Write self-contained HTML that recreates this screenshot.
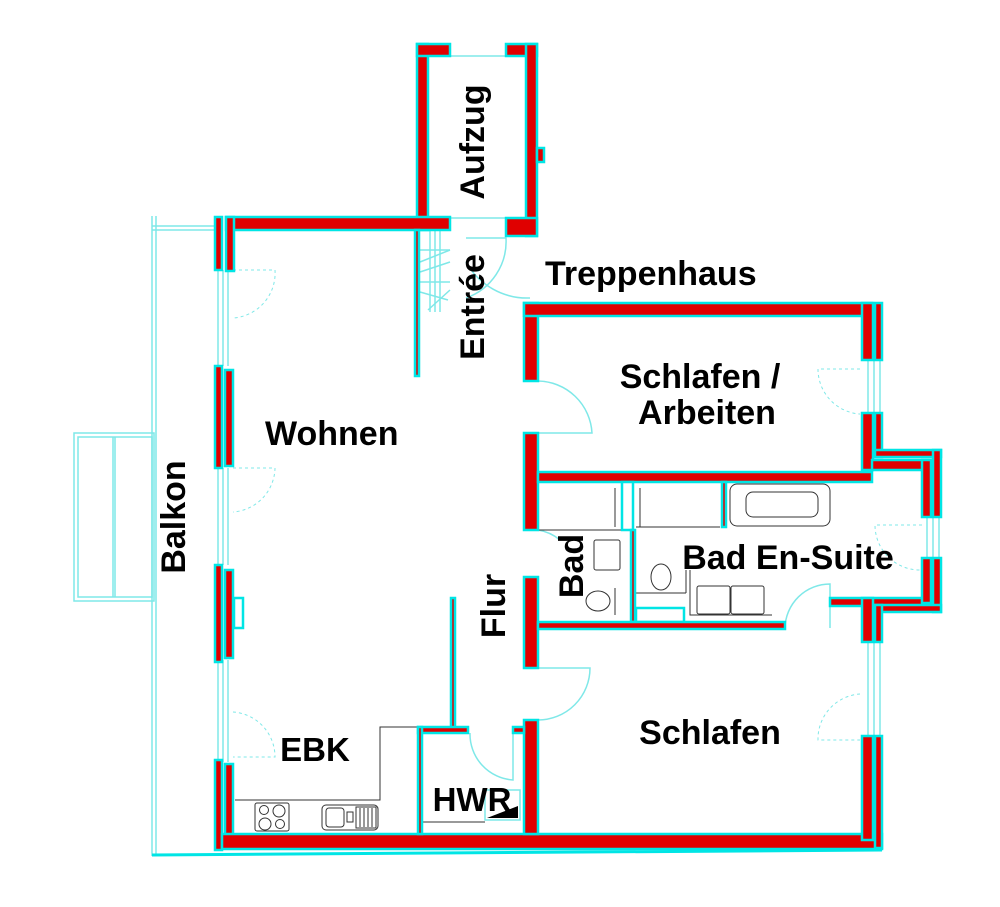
<!DOCTYPE html>
<html><head><meta charset="utf-8"><style>
html,body{margin:0;padding:0;background:#fff;}
svg{display:block}
text{font-family:"Liberation Sans",Arial,sans-serif;font-weight:bold;fill:#000;}
</style></head><body>
<svg width="1000" height="907" viewBox="0 0 1000 907" xmlns="http://www.w3.org/2000/svg">
<g fill="none" stroke="#7fe8e8" stroke-width="1.5">
  <line x1="152" y1="216" x2="152" y2="856"/>
  <line x1="156" y1="216" x2="156" y2="856"/>
  <line x1="152" y1="226" x2="215" y2="226"/>
  <line x1="152" y1="230" x2="215" y2="230"/>
  <rect x="74" y="433" width="80" height="168"/>
  <rect x="78" y="437" width="74" height="160"/>
  <line x1="113" y1="437" x2="113" y2="597"/>
  <line x1="115" y1="437" x2="115" y2="597"/>
  <line x1="218" y1="270" x2="218" y2="366"/><line x1="223" y1="270" x2="223" y2="366"/><line x1="228" y1="270" x2="228" y2="366"/>
  <line x1="218" y1="468" x2="218" y2="565"/><line x1="223" y1="468" x2="223" y2="565"/><line x1="228" y1="468" x2="228" y2="565"/>
  <line x1="218" y1="660" x2="218" y2="762"/><line x1="223" y1="660" x2="223" y2="762"/><line x1="228" y1="660" x2="228" y2="762"/>
  <line x1="868" y1="360" x2="868" y2="413"/><line x1="874" y1="360" x2="874" y2="413"/><line x1="880" y1="360" x2="880" y2="413"/>
  <line x1="927" y1="517" x2="927" y2="558"/><line x1="933" y1="517" x2="933" y2="558"/><line x1="939" y1="517" x2="939" y2="558"/>
  <line x1="868" y1="642" x2="868" y2="736"/><line x1="874" y1="642" x2="874" y2="736"/><line x1="880" y1="642" x2="880" y2="736"/>
  <line x1="450" y1="56" x2="506" y2="56"/>
  <line x1="450" y1="218" x2="506" y2="218"/>
  <line x1="430" y1="230" x2="430" y2="312"/><line x1="435" y1="230" x2="435" y2="312"/><line x1="440" y1="230" x2="440" y2="312"/>
  <line x1="420" y1="250" x2="450" y2="250"/><line x1="420" y1="262" x2="450" y2="250"/><line x1="420" y1="272" x2="450" y2="262"/>
  <line x1="420" y1="282" x2="450" y2="282"/><line x1="420" y1="292" x2="448" y2="300"/><line x1="428" y1="310" x2="450" y2="290"/>
  <path d="M466 238 L506 238 A60 60 0 0 1 466 298"/>
  <path d="M466 262 A70 70 0 0 0 530 298"/>
  <path d="M538 381 A55 55 0 0 1 592 433 L538 433"/>
  <path d="M538 530 A45 45 0 0 1 560 540"/>
  <path d="M785 628 A45 45 0 0 1 830 584 L830 628"/>
  <path d="M538 720 A52 52 0 0 0 590 668 L538 668"/>
  <path d="M470 733 A46 46 0 0 0 513 780 L513 733"/>
  <rect x="485" y="790" width="35" height="30"/>
</g>
<g fill="none" stroke="#7fe8e8" stroke-width="1" stroke-dasharray="3,3">
  <path d="M233 270 L275 270 A45 45 0 0 1 233 318"/>
  <path d="M233 468 L275 468 A45 45 0 0 1 233 512"/>
  <path d="M233 712 A45 45 0 0 1 275 757 L233 757"/>
  <path d="M860 369 L818 369 A45 45 0 0 0 860 414"/>
  <path d="M922 525 L875 525 A45 45 0 0 0 922 570"/>
  <path d="M860 694 A45 45 0 0 0 818 740 L860 740"/>
</g>
<g fill="none" stroke="#333" stroke-width="1">
  <polyline points="235,800 380,800 380,727 417,727"/>
  <rect x="255" y="803" width="34" height="28" rx="2"/>
  <circle cx="264" cy="810" r="4.5"/><circle cx="279" cy="811" r="6"/><circle cx="265" cy="824" r="6"/><circle cx="280" cy="824" r="4.5"/>
  <rect x="322" y="805" width="56" height="25" rx="4"/>
  <rect x="326" y="808" width="18" height="19" rx="3"/>
  <rect x="347" y="812" width="6" height="10"/>
  <rect x="356" y="807" width="20" height="21"/>
  <line x1="360" y1="808" x2="360" y2="827"/><line x1="364" y1="808" x2="364" y2="827"/><line x1="368" y1="808" x2="368" y2="827"/><line x1="372" y1="808" x2="372" y2="827"/>
  <line x1="423" y1="822" x2="485" y2="822"/>
  <rect x="730" y="484" width="100" height="42" rx="7"/>
  <rect x="746" y="492" width="72" height="25" rx="7"/>
  <line x1="538" y1="530" x2="633" y2="530"/>
  <line x1="636" y1="527" x2="720" y2="527"/>
  <line x1="615" y1="488" x2="615" y2="527"/><line x1="640" y1="488" x2="640" y2="527"/>
  <rect x="594" y="540" width="26" height="30" rx="2"/>
  <ellipse cx="598" cy="601" rx="12" ry="10"/>
  <line x1="615" y1="588" x2="615" y2="615"/>
  <ellipse cx="661" cy="577" rx="10" ry="13"/>
  <line x1="636" y1="593" x2="686" y2="593"/>
  <line x1="686" y1="570" x2="686" y2="593"/>
  <polyline points="690,570 690,615 772,615"/>
  <rect x="697" y="586" width="33" height="28" rx="2"/>
  <rect x="731" y="586" width="33" height="28" rx="2"/>
</g>
<g fill="#000">
  <polygon points="623,484 630,484 626,525"/>
  <polygon points="638,610 680,620 638,620"/>
  <polygon points="487,818 518,806 518,818"/>
  <polygon points="234,600 240,600 234,620"/>
</g>
<g fill="#e00000" stroke="#00e5e5" stroke-width="2.5">
  <rect x="417" y="44" width="11" height="186"/>
  <rect x="417" y="44" width="33" height="12"/>
  <rect x="506" y="44" width="31" height="12"/>
  <rect x="526" y="44" width="11" height="192"/>
  <rect x="537" y="148" width="7" height="14"/>
  <rect x="506" y="218" width="31" height="18"/>
  <rect x="226" y="217" width="224" height="13"/>
  <rect x="226" y="217" width="8" height="54"/>
  <rect x="415" y="230" width="4" height="146"/>
  <rect x="215" y="217" width="7" height="53"/>
  <rect x="215" y="366" width="7" height="102"/>
  <rect x="225" y="370" width="8" height="96"/>
  <rect x="215" y="565" width="7" height="97"/>
  <rect x="225" y="570" width="8" height="88"/>
  <rect x="234" y="598" width="9" height="30" fill="#fff"/>
  <rect x="215" y="760" width="7" height="90"/>
  <rect x="225" y="764" width="8" height="84"/>
  <rect x="222" y="834" width="660" height="15"/>
  <rect x="524" y="303" width="14" height="78"/>
  <rect x="524" y="303" width="348" height="13"/>
  <rect x="862" y="303" width="11" height="57"/>
  <rect x="875" y="303" width="7" height="57"/>
  <rect x="524" y="433" width="14" height="97"/>
  <rect x="538" y="472" width="334" height="10"/>
  <rect x="862" y="413" width="11" height="57"/>
  <rect x="875" y="413" width="7" height="44"/>
  <rect x="875" y="450" width="66" height="7"/>
  <rect x="872" y="460" width="59" height="10"/>
  <rect x="922" y="460" width="9" height="57"/>
  <rect x="933" y="450" width="8" height="67"/>
  <rect x="622" y="482" width="11" height="48" fill="#fff"/>
  <rect x="631" y="530" width="4" height="92"/>
  <rect x="722" y="482" width="4" height="45"/>
  <rect x="636" y="608" width="48" height="14" fill="#fff"/>
  <rect x="524" y="577" width="14" height="91"/>
  <rect x="538" y="622" width="247" height="7"/>
  <rect x="830" y="598" width="101" height="8"/>
  <rect x="922" y="558" width="9" height="45"/>
  <rect x="933" y="558" width="8" height="54"/>
  <rect x="875" y="605" width="66" height="7"/>
  <rect x="862" y="598" width="11" height="44"/>
  <rect x="875" y="605" width="7" height="37"/>
  <rect x="862" y="736" width="11" height="104"/>
  <rect x="875" y="736" width="7" height="112"/>
  <rect x="524" y="720" width="14" height="114"/>
  <rect x="451" y="598" width="4" height="130"/>
  <rect x="418" y="727" width="50" height="6"/>
  <rect x="513" y="727" width="11" height="6"/>
  <rect x="418" y="727" width="4" height="107"/>
</g>
<line x1="152" y1="855" x2="882" y2="850" stroke="#00e5e5" stroke-width="3"/>
<text x="265" y="445" font-size="34">Wohnen</text>
<text x="545" y="285" font-size="34">Treppenhaus</text>
<text x="700" y="388" font-size="34" text-anchor="middle">Schlafen /</text>
<text x="707" y="424" font-size="34" text-anchor="middle">Arbeiten</text>
<text x="788" y="569" font-size="34" text-anchor="middle">Bad En-Suite</text>
<text x="710" y="744" font-size="34" text-anchor="middle">Schlafen</text>
<text x="315" y="761" font-size="33" text-anchor="middle">EBK</text>
<text x="472" y="811" font-size="33" text-anchor="middle">HWR</text>
<text transform="translate(484,142) rotate(-90)" font-size="34" text-anchor="middle">Aufzug</text>
<text transform="translate(484,307) rotate(-90)" font-size="34" text-anchor="middle">Entrée</text>
<text transform="translate(185,517) rotate(-90)" font-size="34" text-anchor="middle">Balkon</text>
<text transform="translate(505,606) rotate(-90)" font-size="34" text-anchor="middle">Flur</text>
<text transform="translate(583,566) rotate(-90)" font-size="34" text-anchor="middle">Bad</text>
</svg>
</body></html>
